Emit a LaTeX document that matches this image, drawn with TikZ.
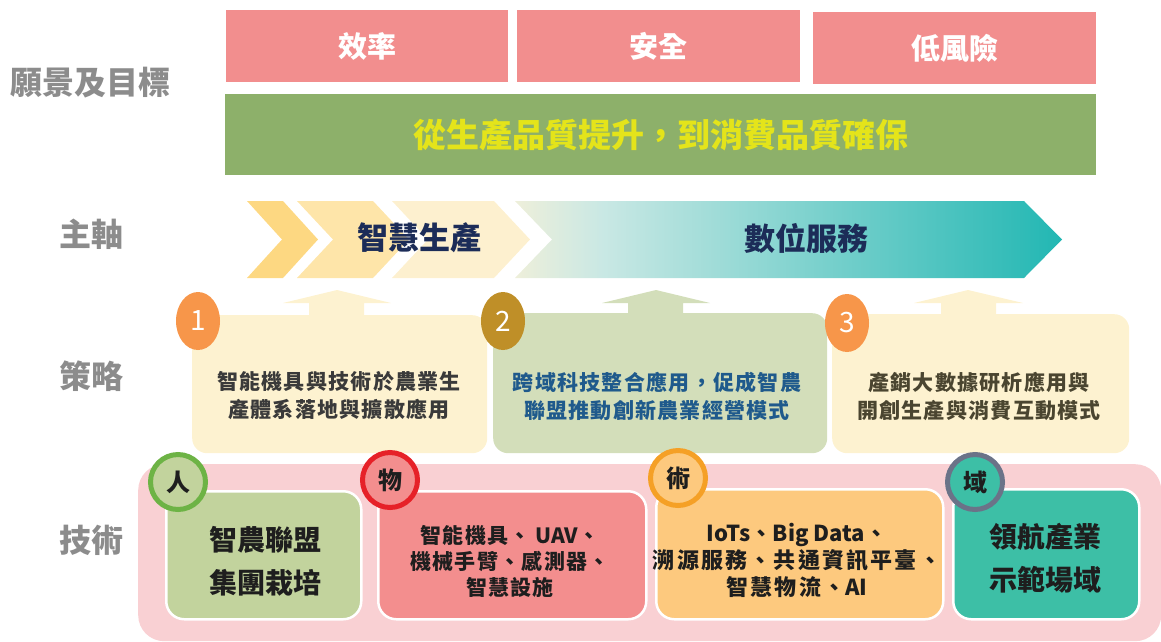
\documentclass[tikz,border=0pt]{standalone}
\usepackage{fontspec}
\setmainfont{Noto Sans CJK TC}
\newfontfamily\spcA{Noto Sans CJK TC}[LetterSpace=6]
\newfontfamily\spcB{Noto Sans CJK TC}[LetterSpace=10]
\usetikzlibrary{shapes.geometric}
\definecolor{pinkbox}{HTML}{F28E8E}
\definecolor{greenbar}{HTML}{8DB06A}
\definecolor{yellowtxt}{HTML}{E4E41A}
\definecolor{chevA}{HTML}{FDD882}
\definecolor{chevB}{HTML}{FEE5A9}
\definecolor{chevC}{HTML}{FDF0CF}
\definecolor{arrL}{HTML}{EEEFDA}
\definecolor{arrM}{HTML}{C9E8E4}
\definecolor{arrR}{HTML}{22B7B3}
\definecolor{navy}{HTML}{1C2C58}
\definecolor{labelgray}{HTML}{8C8C8C}
\definecolor{stratY}{HTML}{FDF2D0}
\definecolor{stratG}{HTML}{D3DEBA}
\definecolor{numorange}{HTML}{F7964A}
\definecolor{numgold}{HTML}{BF8F28}
\definecolor{txtgray}{HTML}{3A3A3A}
\definecolor{txtblue}{HTML}{1F5A8C}
\definecolor{txtolive}{HTML}{4A4530}
\definecolor{techbg}{HTML}{F9D0D3}
\definecolor{tA}{HTML}{C2D39D}
\definecolor{ringA}{HTML}{6DB345}
\definecolor{tB}{HTML}{F38E8E}
\definecolor{ringB}{HTML}{E62128}
\definecolor{tC}{HTML}{FDC97E}
\definecolor{ringC}{HTML}{F5A026}
\definecolor{tD}{HTML}{3DBFA6}
\definecolor{ringD}{HTML}{6B7388}
\definecolor{techtxt}{HTML}{1E1E1E}
\pgfdeclarehorizontalshading{arrowsh}{100bp}{color(0bp)=(arrL); color(25bp)=(arrL); color(33bp)=(arrM); color(75bp)=(arrR); color(100bp)=(arrR)}
\tikzset{
  lbl/.style={text=labelgray, font=\bfseries\fontsize{32}{38}\selectfont, inner sep=0pt},
  pbox/.style={fill=pinkbox, text=white, font=\bfseries\fontsize{29}{34}\selectfont, inner sep=0pt, anchor=north west},
  gbox/.style={fill=greenbar, text=yellowtxt, font=\bfseries\fontsize{33}{38}\selectfont, inner sep=0pt, anchor=north west},
  chevtxt/.style={text=navy, font=\bfseries\fontsize{31}{36}\selectfont, inner sep=0pt},
  sbox/.style={rounded corners=15pt, inner sep=0pt, anchor=north west},
  stxt/.style={font=\spcA\bfseries\fontsize{21}{28}\selectfont, align=center, inner sep=0pt},
  numc/.style={ellipse, minimum width=44pt, minimum height=58pt, inner sep=0pt, text=white, font=\fontsize{28}{32}\selectfont},
  tbox/.style={draw=white, line width=2.5pt, rounded corners=18pt, inner sep=0pt, anchor=north west},
  ring/.style={circle, minimum size=55pt, line width=5pt, inner sep=0pt, text=techtxt, font=\bfseries\fontsize{24}{26}\selectfont},
  tbig/.style={text=techtxt, font=\bfseries\fontsize{28}{43}\selectfont, align=center, inner sep=0pt},
  tsmall/.style={text=techtxt, font=\bfseries\fontsize{21}{26}\selectfont, align=center, inner sep=0pt},
  tsmallb/.style={text=techtxt, font=\bfseries\fontsize{22}{27}\selectfont, align=center, inner sep=0pt}
}
\begin{document}
\begin{tikzpicture}[x=1pt,y=-1pt]
\useasboundingbox (0,0) rectangle (1161,641);
% left labels
\node[lbl] (lv) at (90,83) {願景及目標};
\node[lbl] (la) at (91,234) {主軸};
\node[lbl] (ls) at (91,376) {策略};
\node[lbl] (lt) at (91,540) {技術};
% vision
\node[pbox, minimum width=282pt, minimum height=72pt] (g1) at (226,10) {效率};
\node[pbox, minimum width=283pt, minimum height=72pt] (g2) at (517,10) {安全};
\node[pbox, minimum width=283pt, minimum height=72pt] (g3) at (813,12) {低風險};
\node[gbox, minimum width=871pt, minimum height=81pt] (gg) at (225,94) {從生產品質提升，到消費品質確保};
% axis chevrons
\fill[chevA] (247,201) -- (283,201) -- (318,239.5) -- (283,278) -- (247,278) -- (282,239.5) -- cycle;
\fill[chevB] (297,201) -- (373,201) -- (409,239.5) -- (373,278) -- (297,278) -- (333,239.5) -- cycle;
\fill[chevC] (392,201) -- (494,201) -- (530,239.5) -- (494,278) -- (392,278) -- (428,239.5) -- cycle;
\shade[shading=arrowsh] (515,201) -- (1024,201) -- (1062,239.5) -- (1024,278) -- (515,278) -- (552,239.5) -- cycle;
\node[chevtxt] (ax1) at (419,238) {智慧生產};
\node[chevtxt] (ax2) at (806,238) {數位服務};
% strategy
\fill[stratY] (309,316) -- (309,303) -- (283,303) -- (337,290) -- (391,303) -- (364,303) -- (364,316) -- cycle;
\fill[stratG] (628,316) -- (628,303) -- (602,303) -- (656,290) -- (710,303) -- (683,303) -- (683,316) -- cycle;
\fill[stratY] (941,316) -- (941,303) -- (914,303) -- (968,290) -- (1023,303) -- (996,303) -- (996,316) -- cycle;
\node[sbox, fill=stratY, minimum width=295pt, minimum height=138pt] (s1) at (192,315) {};
\node[sbox, fill=stratG, minimum width=334pt, minimum height=140pt] (s2) at (493,313) {};
\node[sbox, fill=stratY, minimum width=297pt, minimum height=139pt] (s3) at (832,314) {};
\node[stxt, text=txtgray] (s1t) at (339,396) {智能機具與技術於農業生\\產體系落地與擴散應用};
\node[stxt, text=txtblue] (s2t) at (657,396) {跨域科技整合應用，促成智農\\聯盟推動創新農業經營模式};
\node[stxt, text=txtolive] (s3t) at (979,396) {產銷大數據研析應用與\\開創生產與消費互動模式};
\node[numc, fill=numorange] (n1) at (198,321) {1};
\node[numc, fill=numgold] (n2) at (503,321) {2};
\node[numc, fill=numorange] (n3) at (847,323) {3};
% technology
\node[fill=techbg, rounded corners=26pt, minimum width=1023pt, minimum height=177pt, inner sep=0pt, anchor=north west] (tbg) at (138,464) {};
\node[tbox, fill=tA, minimum width=195pt, minimum height=128pt] (t1) at (165,490) {};
\node[tbox, fill=tB, minimum width=268pt, minimum height=128pt] (t2) at (377,490) {};
\node[tbox, fill=tC, minimum width=287pt, minimum height=130pt] (t3) at (655,488) {};
\node[tbox, fill=tD, minimum width=186pt, minimum height=130pt] (t4) at (952,488) {};
\node[tbig] (t1t) at (265,561) {智農聯盟\\集團栽培};
\node[tsmall] (t2t) at (510,561) {{\spcA 智能機具、} UAV、\\{\spcA 機械手臂、感測器、}\\{\spcA 智慧設施}};
\node[tsmallb] (t3t) at (797,560) {IoTs、Big Data、\\{\spcB 溯源服務、共通資訊平臺、}\\{\spcB 智慧物流、}AI};
\node[tbig] (t4t) at (1045,558) {領航產業\\示範場域};
\node[ring, draw=ringA, fill=tA] (c1) at (178,482) {人};
\node[ring, draw=ringB, fill=tB] (c2) at (390,480) {物};
\node[ring, draw=ringC, fill=tC] (c3) at (678,478) {術};
\node[ring, draw=ringD, fill=tD] (c4) at (975,482) {域};
\end{tikzpicture}
\end{document}
